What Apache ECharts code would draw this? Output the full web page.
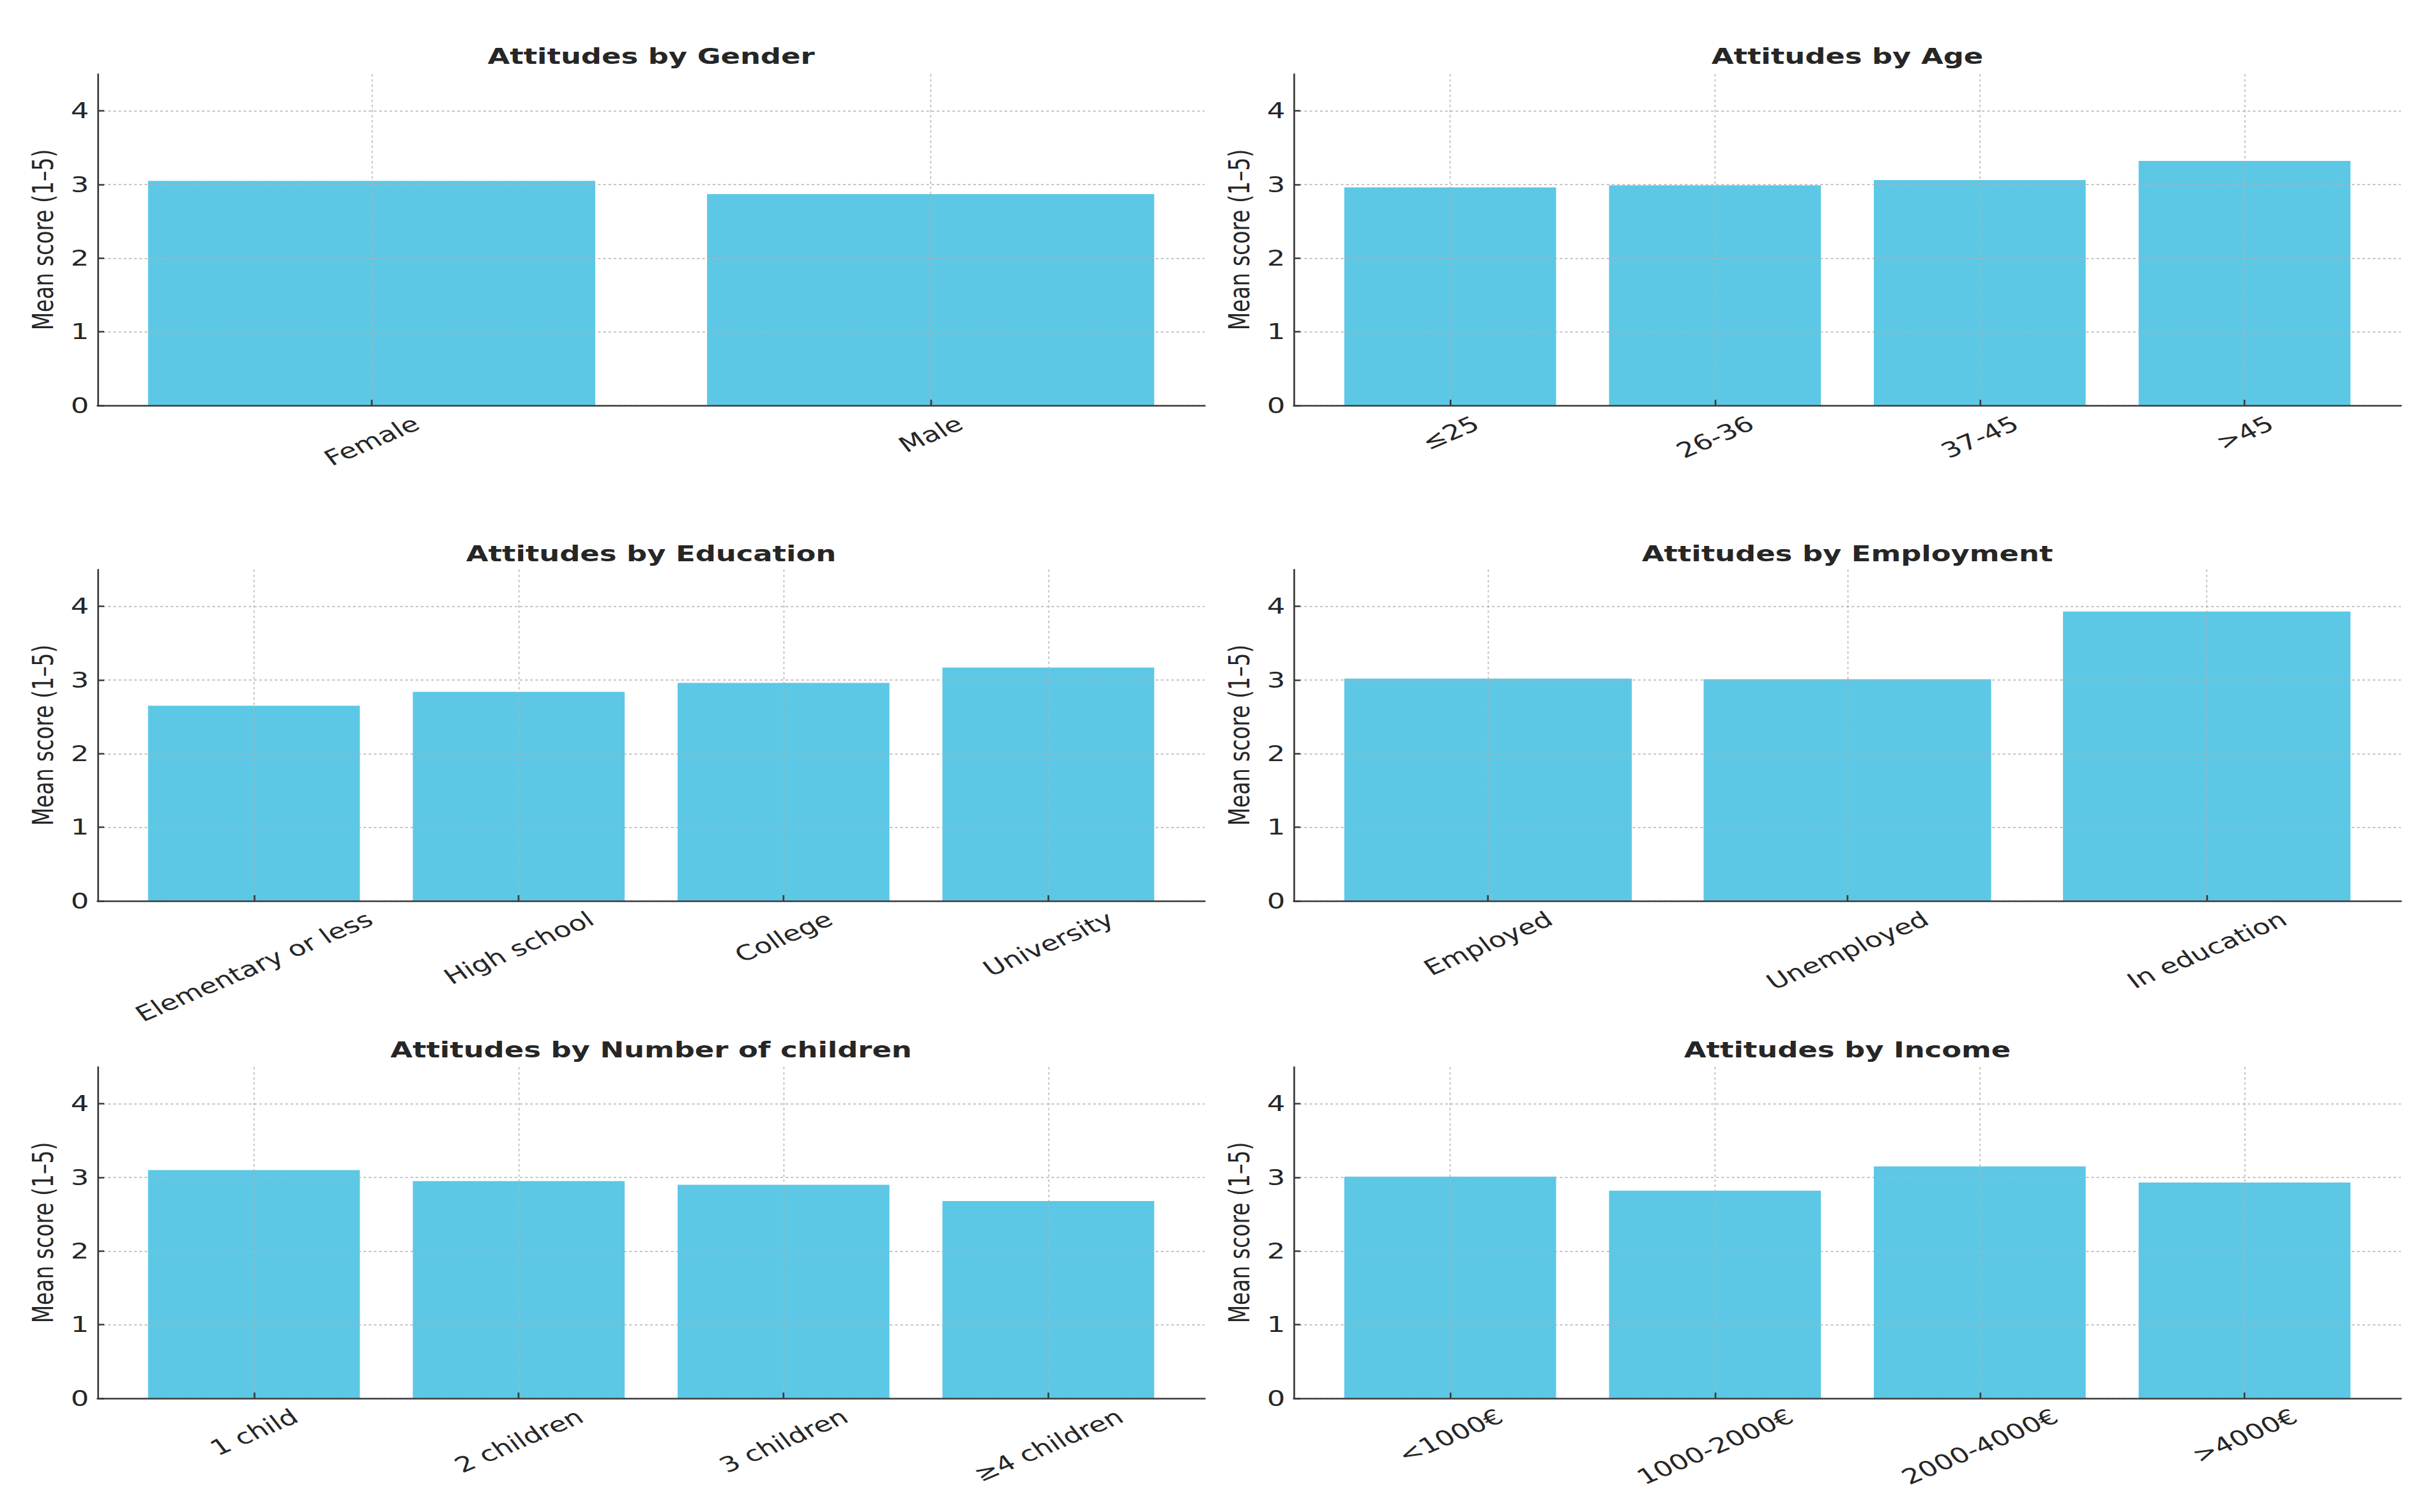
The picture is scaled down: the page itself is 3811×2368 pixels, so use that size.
<!DOCTYPE html>
<html>
<head>
<meta charset="utf-8">
<script src="https://cdn.jsdelivr.net/npm/echarts@6/dist/echarts.min.js"></script>
<style>
html,body{margin:0;padding:0;background:#ffffff;overflow:hidden;width:3811px;height:2368px;}
#chart{height:2368px;transform-origin:0 0;}
</style>
</head>
<body>
<div id="chart"></div>
<script>
// ---------------- data ----------------
const genderCategories = ['Female', 'Male'];
const genderScores = [3.05, 2.87];

const ageCategories = ['≤25', '26-36', '37-45', '>45'];
const ageScores = [2.96, 2.99, 3.06, 3.32];

const educationCategories = ['Elementary or less', 'High school', 'College', 'University'];
const educationScores = [2.65, 2.84, 2.96, 3.17];

const employmentCategories = ['Employed', 'Unemployed', 'In education'];
const employmentScores = [3.02, 3.01, 3.93];

const childrenCategories = ['1 child', '2 children', '3 children', '≥4 children'];
const childrenScores = [3.10, 2.95, 2.90, 2.68];

const incomeCategories = ['<1000€', '1000-2000€', '2000-4000€', '>4000€'];
const incomeScores = [3.01, 2.82, 3.15, 2.93];

const panelTitles = [
  'Attitudes by Gender', 'Attitudes by Age',
  'Attitudes by Education', 'Attitudes by Employment',
  'Attitudes by Number of children', 'Attitudes by Income'
];
const yTickValues = [0, 1, 2, 3, 4];
const yAxisTitle = 'Mean score (1–5)';

// ---------------- layout ----------------
const S = 1.36;                 // horizontal stretch of the reference picture
const FONT = 'DejaVu Sans';
const FS = 33;
const TEXT = '#262626';
const AXIS = '#3c3c3c';
const BAR = '#5cc8e6';
const GRIDC = 'rgba(176,176,176,0.75)';

const chartDom = document.getElementById('chart');
const logicalW = 3811 / S;
chartDom.style.width = logicalW + 'px';
chartDom.style.transform = 'scaleX(' + S + ')';

const colLeft = [153 / S, 2026 / S];
const rowTop = [116, 892, 1671];
const titleTop = [72, 851, 1628];
const plotW = 1733 / S;
const plotH = 519;

const panels = [
  [genderCategories, genderScores],
  [ageCategories, ageScores],
  [educationCategories, educationScores],
  [employmentCategories, employmentScores],
  [childrenCategories, childrenScores],
  [incomeCategories, incomeScores]
];

const ctx = document.createElement('canvas').getContext('2d');
ctx.font = FS + 'px "' + FONT + '"';
const ROT = Math.PI / 6;

const grids = [], xAxes = [], yAxes = [], series = [], titles = [];

panels.forEach(function (p, i) {
  const cats = p[0], vals = p[1];
  const n = cats.length;
  const col = i % 2, row = Math.floor(i / 2);
  const left = colLeft[col], top = rowTop[row];
  const margin = 0.05 * (n - 0.2);
  const xMin = -0.4 - margin, xMax = n - 1 + 0.4 + margin;
  const barW = 0.8 / ((n - 0.2) * 1.1) * plotW;
  const idx = cats.map(function (_, j) { return j; });

  // per-label spacer so the rotated label box is centred under its tick, top at a fixed pad
  const rich = {
    t: { fontSize: FS, fontFamily: FONT, color: TEXT, lineHeight: FS, verticalAlign: 'bottom' }
  };
  cats.forEach(function (c, j) {
    const w = ctx.measureText(c).width;
    const H = w * Math.sin(ROT) + 32 * Math.cos(ROT);
    const D = 11.5 + H / 2;
    rich['s' + j] = { width: 2 * D * Math.sin(ROT), lineHeight: FS + 2 * D * Math.cos(ROT), fontSize: FS, fontFamily: FONT };
  });

  grids.push({ left: left, top: top, width: plotW, height: plotH, containLabel: false, outerBoundsMode: 'none' });
  titles.push({
    text: panelTitles[i], left: left + plotW / 2, top: titleTop[row], textAlign: 'center', padding: 0,
    textStyle: { fontSize: FS, fontWeight: 'bold', fontFamily: FONT, color: TEXT }
  });
  xAxes.push({
    gridIndex: i, type: 'value', min: xMin, max: xMax, z: 3,
    axisLine: { show: true, onZero: false, lineStyle: { color: AXIS, width: 2.7 } },
    axisTick: { show: true, inside: true, length: 9, customValues: idx, lineStyle: { color: AXIS, width: 2 } },
    axisLabel: {
      customValues: idx, rotate: 30, align: 'center', verticalAlign: 'middle', margin: 0,
      fontSize: FS, fontFamily: FONT, color: TEXT,
      formatter: function (v) { const j = Math.round(v); return '{t|' + cats[j] + '}{s' + j + '| }'; },
      rich: rich
    },
    splitLine: { show: true, lineStyle: { color: GRIDC, width: 1.4, type: [4, 4] } }
  });
  yAxes.push({
    gridIndex: i, type: 'value', min: 0, max: 4.5, z: 3,
    name: yAxisTitle, nameLocation: 'middle', nameGap: 47,
    nameTextStyle: { fontSize: FS, fontFamily: FONT, color: TEXT },
    axisLine: { show: true, onZero: false, lineStyle: { color: AXIS, width: 2 } },
    axisTick: { show: true, inside: true, length: 7.4, customValues: yTickValues, lineStyle: { color: AXIS, width: 2.5 } },
    axisLabel: { customValues: yTickValues, margin: 10, fontSize: FS, fontFamily: FONT, color: TEXT },
    splitLine: { show: true, lineStyle: { color: GRIDC, width: 2, type: [3, 3] } }
  });
  series.push({
    type: 'bar', xAxisIndex: i, yAxisIndex: i, z: 1,
    barWidth: barW,
    itemStyle: { color: BAR },
    data: vals.map(function (v, j) { return [j, v]; })
  });
});

const chart = echarts.init(chartDom, null, { renderer: 'svg' });
chart.setOption({
  animation: false,
  backgroundColor: '#ffffff',
  title: titles,
  grid: grids,
  xAxis: xAxes,
  yAxis: yAxes,
  series: series
});
</script>
</body>
</html>
